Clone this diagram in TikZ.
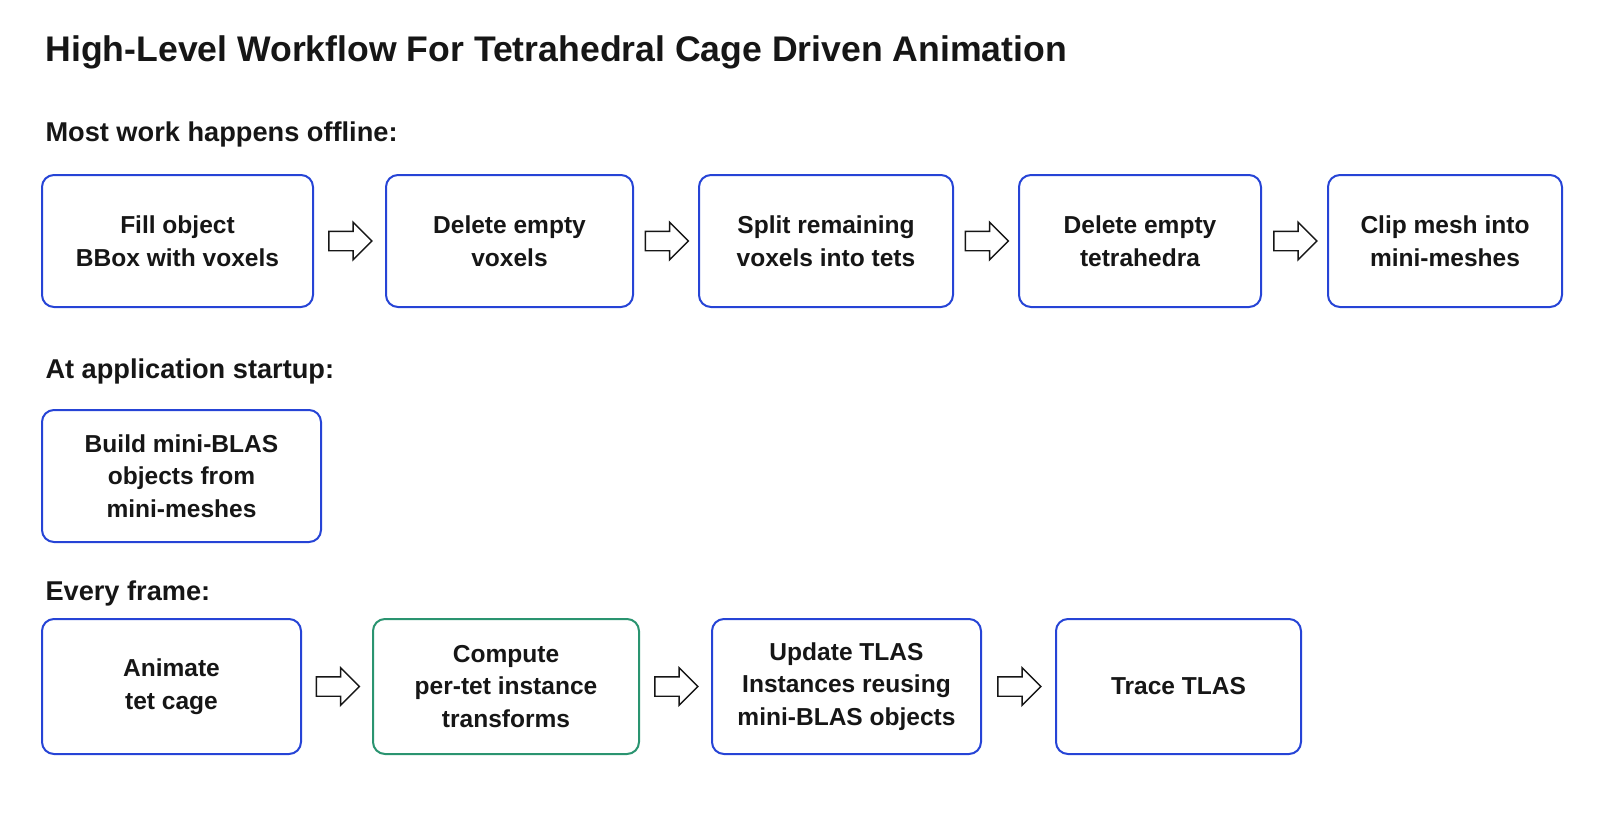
\documentclass[tikz,border=0pt]{standalone}
\usepackage{fontspec}
\setmainfont{Liberation Sans}
\usetikzlibrary{shapes.arrows,calc}

\definecolor{stepblue}{RGB}{38,68,214}
\definecolor{stepgreen}{RGB}{42,148,112}
\definecolor{inkgray}{RGB}{22,22,22}

\tikzset{every picture/.style={line width=0.75pt}}
\tikzset{
  stepbox/.style={draw=stepblue, line width=1.5, rounded corners=9pt, align=center, inner sep=0.75pt, text=inkgray, minimum height=99pt, font=\fontsize{18.4}{24.5}\selectfont\bfseries},
  greenbox/.style={stepbox, draw=stepgreen},
  flowarrow/.style={single arrow, draw=inkgray, fill=white, line width=1.1, minimum height=32.25pt, text height=6.75pt, text depth=6.75pt, single arrow head extend=6.75pt, inner sep=0pt, xshift=-3pt},
  headtext/.style={anchor=base west, inner sep=0pt, text=inkgray, font=\fontsize{20.4}{24}\selectfont\bfseries}
}

\begin{document}
\begin{tikzpicture}[x=0.75pt,y=0.75pt,yscale=-1,xscale=1]
%set diagram left start at 0, and has height of 821
\useasboundingbox (0,0) rectangle (1600,821);

% Text Node
\node (title) at (45,61.7) [anchor=base west, inner sep=0pt, text=inkgray, font=\fontsize{26.7}{30}\selectfont\bfseries] {High-Level Workflow For Tetrahedral Cage Driven Animation};
% Text Node
\node (offline) at (45,141.7) [headtext] {Most work happens offline:};

%Shape: Rounded Rect [id:fill]
\node (b1) at (177.5,241) [stepbox, minimum width=203.25pt] {Fill object\\BBox with voxels};
%Shape: Rounded Rect [id:delvox]
\node (b2) at (509.5,241) [stepbox, minimum width=185.25pt] {Delete empty\\voxels};
%Shape: Rounded Rect [id:split]
\node (b3) at (826,241) [stepbox, minimum width=190.5pt] {Split remaining\\voxels into tets};
%Shape: Rounded Rect [id:deltet]
\node (b4) at (1140,241) [stepbox, minimum width=181.5pt] {Delete empty\\tetrahedra};
%Shape: Rounded Rect [id:clip]
\node (b5) at (1445,241) [stepbox, minimum width=175.5pt] {Clip mesh into\\mini-meshes};

%Block Arrows
\node (a1) at ($(b1.east)!0.5!(b2.west)$) [flowarrow] {};
\node (a2) at ($(b2.east)!0.5!(b3.west)$) [flowarrow] {};
\node (a3) at ($(b3.east)!0.5!(b4.west)$) [flowarrow] {};
\node (a4) at ($(b4.east)!0.5!(b5.west)$) [flowarrow] {};

% Text Node
\node (startup) at (45,378.3) [headtext] {At application startup:};
%Shape: Rounded Rect [id:build]
\node (s1) at (181.5,476) [stepbox, minimum width=209.25pt] {Build mini-BLAS\\objects from\\mini-meshes};

% Text Node
\node (frame) at (45,600) [headtext] {Every frame:};

%Shape: Rounded Rect [id:animate]
\node (c1) at (171.5,686.5) [stepbox, minimum width=194.25pt, minimum height=101.25pt] {Animate\\tet cage};
%Shape: Rounded Rect [id:compute]
\node (c2) at (506,686.5) [greenbox, minimum width=199.5pt, minimum height=101.25pt] {Compute\\per-tet instance\\transforms};
%Shape: Rounded Rect [id:update]
\node (c3) at (846.5,686.5) [stepbox, minimum width=201.75pt, minimum height=101.25pt] {Update TLAS\\Instances reusing\\mini-BLAS objects};
%Shape: Rounded Rect [id:trace]
\node (c4) at (1178.5,686.5) [stepbox, minimum width=183.75pt, minimum height=101.25pt] {Trace TLAS};

%Block Arrows
\node (a5) at ($(c1.east)!0.5!(c2.west)$) [flowarrow] {};
\node (a6) at ($(c2.east)!0.5!(c3.west)$) [flowarrow] {};
\node (a7) at ($(c3.east)!0.5!(c4.west)$) [flowarrow] {};

\end{tikzpicture}
\end{document}
